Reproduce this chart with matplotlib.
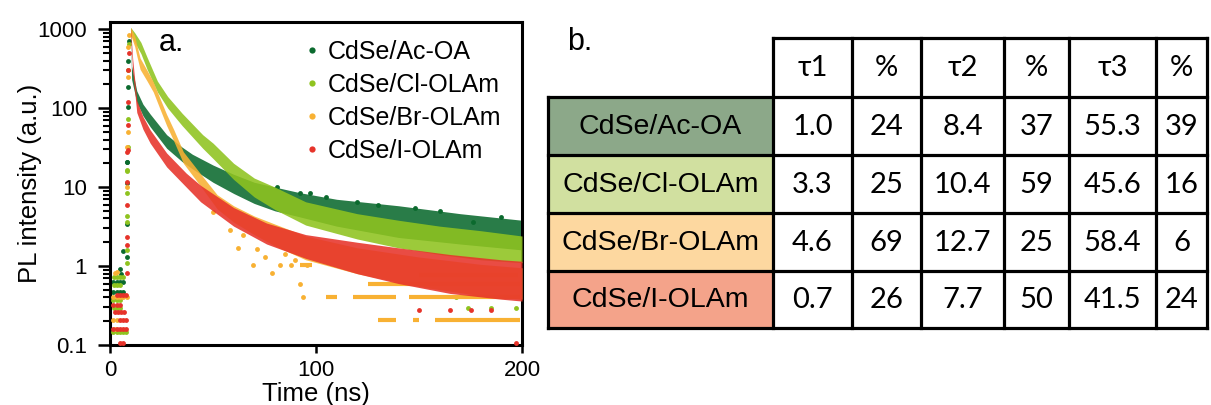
import matplotlib
matplotlib.use('Agg')
import matplotlib.pyplot as plt
from matplotlib.patches import Rectangle
from matplotlib.lines import Line2D
from matplotlib.ticker import FixedLocator, FixedFormatter, LogLocator, NullFormatter

plt.rcParams['font.family'] = ['Liberation Sans', 'DejaVu Sans']

# ---------------- data ----------------
series = ['CdSe/Ac-OA', 'CdSe/Cl-OLAm', 'CdSe/Br-OLAm', 'CdSe/I-OLAm']
colors = ['#0b6a2e', '#8fc31f', '#f8b133', '#e6332a']

# decay bands: time (ns), lower and upper edge of the point cloud (a.u.)
ac_t  = [10, 10.5, 13, 16, 19.5, 27.5, 35, 40, 50, 60, 70, 80, 92, 110, 140, 170, 200]
ac_lo = [850, 230, 118, 80, 58, 31, 21, 17, 11.5, 8.3, 6.2, 5, 4.2, 3.2, 2.3, 1.9, 1.6]
ac_hi = [1050, 340, 165, 112, 84, 46, 32, 26, 19, 14.5, 11.5, 10, 8.5, 7, 5.8, 4.6, 3.8]

cl_t  = [10, 12, 15, 18, 23, 28, 35, 45, 50, 60, 70, 80, 95, 120, 140, 160, 180, 200]
cl_lo = [850, 680, 490, 310, 160, 100, 60, 31, 23, 12.5, 7.5, 5.2, 3.3, 2.2, 1.7, 1.4, 1.2, 1.1]
cl_hi = [1050, 900, 680, 440, 220, 140, 86, 46, 36, 20, 13, 10, 6.5, 4.6, 3.8, 3.2, 2.8, 2.4]

br_t  = [10, 12, 13, 14.6, 18, 21, 24.5, 27.5, 31, 35.6, 43.7, 52, 60, 70, 80, 95, 120, 150, 180, 200]
br_lo = [850, 600, 460, 310, 220, 160, 94, 60, 38, 20, 10.5, 5.3, 3.6, 2.5, 1.8, 1.2, 0.8, 0.55, 0.42, 0.38]
br_hi = [1050, 820, 630, 430, 300, 215, 128, 83, 53, 28, 15, 8, 5.8, 4.3, 3.4, 2.4, 1.7, 1.3, 1.05, 0.95]

i_t  = [10, 11, 13, 16, 19.5, 27.5, 37, 44, 60, 76, 95, 120, 140, 165, 190, 200]
i_lo = [850, 290, 88, 54, 36, 18, 10, 6.5, 3.2, 1.9, 1.25, 0.8, 0.6, 0.45, 0.38, 0.36]
i_hi = [1050, 420, 125, 78, 53, 27, 15, 10.5, 5.5, 3.5, 2.5, 2.0, 1.7, 1.4, 1.2, 1.15]

# baseline before the pulse and the rising edge (individual points)
ac_pts_t = [1.6, 3.2, 4.8, 6.5, 1.6, 3.2, 4.8, 6.5, 5.5, 4.9, 6.5, 8.3, 8.3, 8.4, 8.2, 8.3, 8.5, 8.6, 8.8, 9.0]
ac_pts_y = [0.62, 0.62, 0.62, 0.62, 0.47, 0.47, 0.47, 0.47, 0.8, 0.93, 1.55, 1.32, 3.4, 11.2, 20.5, 21, 104, 186, 400, 700]
cl_pts_t = [2, 3.5, 5, 6.5, 2, 3.5, 5, 1.6, 3.2, 4.8, 2, 3.5, 5, 1.6, 3.2, 4.8, 6.5, 8.0,
            8.3, 8.3, 8.2, 8.3, 8.4, 8.3, 8.4, 8.5, 8.6, 8.8, 9.0]
cl_pts_y = [0.73, 0.73, 0.73, 0.73, 0.575, 0.575, 0.575, 0.37, 0.37, 0.37, 0.29, 0.29, 0.29,
            0.144, 0.144, 0.144, 0.144, 0.144,
            1.08, 1.59, 3.6, 4.3, 8.3, 16.1, 16.6, 32.5, 72, 300, 650]
br_pts_t = [3.2, 2.5, 1.6, 3.2, 4.8, 6.5, 8.1, 1.6, 3.2, 2.5, 8.3, 8.4, 8.5, 8.6, 8.9, 9.2]
br_pts_y = [0.84, 0.81, 0.41, 0.41, 0.41, 0.41, 0.41, 0.21, 0.21, 0.16, 10, 32.5, 50, 250, 600, 850]
i_pts_t = [3.2, 4.8, 6.5, 8.0, 1.6, 3.2, 4.8, 2.5, 4.0, 5.5, 7.0, 4.8, 6.5, 8.0,
           1.6, 3.2, 4.8, 6.5, 8.0, 4.8, 6.5, 8.1,
           8.3, 8.3, 8.2, 8.3, 8.4, 8.5, 8.6, 8.7, 8.9, 9.1]
i_pts_y = [0.43, 0.43, 0.43, 0.43, 0.32, 0.32, 0.32, 0.26, 0.26, 0.26, 0.26, 0.21, 0.21, 0.21,
           0.16, 0.16, 0.16, 0.16, 0.16, 0.107, 0.107, 0.81,
           1.85, 2.3, 5.9, 11.7, 28, 29.5, 61, 120, 300, 500]

# scattered points in the tail
ac_tail_t = [81, 92, 97, 148, 176, 120, 160, 190, 130, 105]
ac_tail_y = [10, 8.4, 8.4, 5.4, 3.6, 6.5, 5.0, 4.2, 6.0, 7.5]
cl_tail_t = [174, 185, 197, 168]
cl_tail_y = [0.29, 0.29, 0.29, 0.41]
br_tail_t = [50.2, 58.3, 64.7, 71.2, 78.5, 69.6, 82.7, 88, 95.5, 92.2, 93.8, 85, 90, 75, 62]
br_tail_y = [4.9, 2.9, 2.45, 1.66, 0.82, 1.03, 1.03, 1.03, 1.03, 0.6, 0.41, 1.4, 1.2, 1.3, 1.7]
i_tail_t = [197, 150, 165, 175, 185]
i_tail_y = [0.107, 0.28, 0.28, 0.28, 0.28]

# quantised count levels in the Br-OLAm tail: level, start, end (ns)
br_stripe_y  = [0.41, 0.41, 0.41, 0.21, 0.21, 0.21, 0.6, 0.78, 1.03]
br_stripe_x0 = [105, 118, 145, 130, 147, 158, 125, 150, 92]
br_stripe_x1 = [110, 139, 199, 139, 150, 199, 199, 198, 98]

# table
table_header = ['τ1', '%', 'τ2', '%', 'τ3', '%']
tau1 = ['1.0', '3.3', '4.6', '0.7']
pct1 = ['24', '25', '69', '26']
tau2 = ['8.4', '10.4', '12.7', '7.7']
pct2 = ['37', '59', '25', '50']
tau3 = ['55.3', '45.6', '58.4', '41.5']
pct3 = ['39', '16', '6', '24']
row_fill = ['#8ca889', '#d1e0a0', '#fdd8a0', '#f4a38a']

# ---------------- figure ----------------
W, H = 1211, 405
fig = plt.figure(figsize=(W / 100, H / 100), dpi=100)
ax = fig.add_axes([110 / W, 1 - 345 / H, (522 - 110) / W, (345 - 22) / H])

bands = {
    'CdSe/Ac-OA': (ac_t, ac_lo, ac_hi, ac_pts_t, ac_pts_y, ac_tail_t, ac_tail_y),
    'CdSe/Cl-OLAm': (cl_t, cl_lo, cl_hi, cl_pts_t, cl_pts_y, cl_tail_t, cl_tail_y),
    'CdSe/Br-OLAm': (br_t, br_lo, br_hi, br_pts_t, br_pts_y, br_tail_t, br_tail_y),
    'CdSe/I-OLAm': (i_t, i_lo, i_hi, i_pts_t, i_pts_y, i_tail_t, i_tail_y),
}
col = dict(zip(series, colors))
order = ['CdSe/Ac-OA', 'CdSe/Cl-OLAm', 'CdSe/Br-OLAm', 'CdSe/I-OLAm']
for z, name in enumerate(order):
    t, lo, hi, pt, py, tt, ty = bands[name]
    c = col[name]
    if name == 'CdSe/Br-OLAm':
        ax.hlines(br_stripe_y, br_stripe_x0, br_stripe_x1, colors=c, lw=3, zorder=2 + z)
    ax.fill_between(t, lo, hi, color=c, lw=0, alpha=0.88, zorder=2 + z)
    ax.plot(pt, py, 'o', color=c, ms=3.5, mew=0, zorder=2 + z, clip_on=False)
    ax.plot(tt, ty, 'o', color=c, ms=3.5, mew=0, zorder=2 + z)

ax.set_yscale('log')
ax.set_xlim(0, 200)
ax.set_ylim(0.1, 1230)
ax.yaxis.set_major_locator(FixedLocator([0.1, 1, 10, 100, 1000]))
ax.yaxis.set_major_formatter(FixedFormatter(['0.1', '1', '10', '100', '1000']))
ax.yaxis.set_minor_locator(LogLocator(base=10, subs=range(2, 10), numticks=20))
ax.yaxis.set_minor_formatter(NullFormatter())
ax.xaxis.set_major_locator(FixedLocator([0, 100, 200]))
for s in ax.spines.values():
    s.set_linewidth(2.2)
ax.tick_params(axis='y', which='major', length=9, width=1.8, labelsize=16, pad=7.5)
ax.tick_params(axis='y', which='minor', length=5, width=1.5)
ax.tick_params(axis='x', which='major', length=5.5, width=1.8, labelsize=16, pad=5)
ax.set_xlabel('Time (ns)', fontsize=18.5, labelpad=1)
ax.set_ylabel('PL intensity (a.u.)', fontsize=18.5, labelpad=-3.5)
ax.text(171 / W, 1 - 43 / H, 'a.', transform=fig.transFigure, fontsize=22,
        ha='center', va='center')

handles = [Line2D([], [], ls='none', marker='o', ms=4.5, mew=0, color=c) for c in colors]
fig.legend(handles, series, loc='upper left', bbox_to_anchor=(305.5 / W, 1 - 40 / H),
           frameon=False, fontsize=18, handlelength=0.5, handletextpad=0.4,
           borderpad=0, borderaxespad=0, labelspacing=0.36)

# ---------------- table ----------------
tab = fig.add_axes([0, 0, 1, 1])
tab.set_xlim(0, W)
tab.set_ylim(H, 0)
tab.axis('off')
tab.patch.set_alpha(0)

xs = [548, 773, 852, 921, 1004, 1069, 1156, 1207]
ys = [38, 96.7, 155, 212.5, 270.7, 328]
lw = 2.3
for r in range(4):
    tab.add_patch(Rectangle((xs[0], ys[r + 1]), xs[1] - xs[0], ys[r + 2] - ys[r + 1],
                            facecolor=row_fill[r], edgecolor='none'))
tab.plot([xs[1], xs[-1]], [ys[0], ys[0]], color='k', lw=lw, solid_capstyle='projecting')
for yv in ys[1:]:
    tab.plot([xs[0], xs[-1]], [yv, yv], color='k', lw=lw, solid_capstyle='projecting')
tab.plot([xs[0], xs[0]], [ys[1], ys[-1]], color='k', lw=lw, solid_capstyle='projecting')
for xv in xs[1:]:
    tab.plot([xv, xv], [ys[0], ys[-1]], color='k', lw=lw, solid_capstyle='projecting')

numfont = ['Lato', 'DejaVu Sans']
for j, h in enumerate(table_header):
    tab.text((xs[j + 1] + xs[j + 2]) / 2, (ys[0] + ys[1]) / 2 + 1, h, ha='center', va='center',
             fontsize=21, family=numfont)
cols = [tau1, pct1, tau2, pct2, tau3, pct3]
for r in range(4):
    yc = (ys[r + 1] + ys[r + 2]) / 2 + 1
    tab.text((xs[0] + xs[1]) / 2, yc, series[r], ha='center', va='center', fontsize=20.5)
    for j, cvals in enumerate(cols):
        tab.text((xs[j + 1] + xs[j + 2]) / 2, yc, cvals[r], ha='center', va='center',
                 fontsize=21, family=numfont)
tab.text(580, 42, 'b.', fontsize=22, ha='center', va='center')

fig.savefig('out.png', dpi=100)
